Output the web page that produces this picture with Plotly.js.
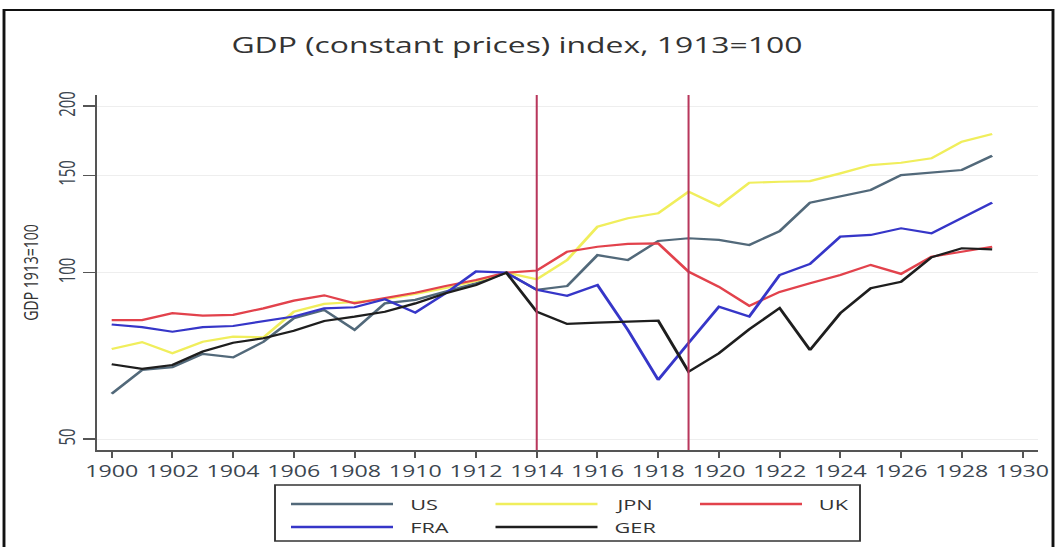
<!DOCTYPE html>
<html>
<head>
<meta charset="utf-8">
<script src="https://cdn.plot.ly/plotly-3.0.1.min.js"></script>
<style>
html,body{margin:0;padding:0;overflow:hidden;background:#fff;width:1058px;height:547px;}
#chart{width:730px;height:547px;transform:scaleX(1.449315);transform-origin:0 0;}
</style>
</head>
<body>
<div id="chart"></div>
<script>
// ---- data ----
const years = [1900,1901,1902,1903,1904,1905,1906,1907,1908,1909,1910,1911,1912,1913,1914,
               1915,1916,1917,1918,1919,1920,1921,1922,1923,1924,1925,1926,1927,1928,1929];
const seriesNames = ["US","JPN","UK","FRA","GER"];
const usValues  = [60.4,66.7,67.5,71.3,70.3,75.0,82.7,85.6,78.8,88.0,89.3,92.4,95.7,100,93.1,
                   94.6,107.6,105.4,114.1,115.4,114.6,112.2,118.9,133.8,137.6,141.1,150.1,151.6,153.3,162.7];
const jpnValues = [72.8,74.9,71.5,75.0,76.6,76.4,85.0,87.8,88.5,89.6,91.5,93.8,96.6,100,97.3,
                   105.4,121.1,125.4,128.0,140.1,132.0,145.4,146.0,146.4,151.2,156.5,158.0,161.0,172.5,178.1];
const ukValues  = [82.1,82.1,84.5,83.6,83.9,86.2,89.0,91.0,88.0,89.9,92.0,94.6,97.0,100,100.9,
                   109.1,111.4,112.7,113.0,100.4,94.3,87.1,92.3,95.7,99.0,103.3,99.5,106.9,109.1,111.4];
const fraValues = [80.6,79.7,78.2,79.7,80.1,81.6,83.3,86.2,86.6,89.5,84.7,91.8,100.5,100,93.1,
                   90.8,95.0,78.8,64.0,74.6,86.8,83.3,99.0,103.7,116.2,117.0,120.3,117.8,125.4,133.8];
const gerValues = [68.3,67.0,68.1,72.0,74.7,76.1,78.5,81.8,83.3,85.0,88.0,91.8,95.0,100,85.0,
                   80.8,81.2,81.6,81.9,66.2,71.5,79.0,86.3,72.5,84.5,93.7,96.3,106.6,110.7,110.2];
const seriesValues = [usValues, jpnValues, ukValues, fraValues, gerValues];
const seriesColors = ["#52697a","#f0ee5c","#e2424c","#3636c8","#1e1e1e"];
const markerYears = [1914, 1919];
const xTickVals = [1900,1902,1904,1906,1908,1910,1912,1914,1916,1918,1920,1922,1924,1926,1928,1930];
const yTickVals = [50,100,150,200];
const yTickText = ["50","100","150","200"];

// ---- geometry helpers (page is drawn narrow, then stretched horizontally) ----
const W = 730, H = 547, S = 1058 / 730;
const M = {l: 67, r: 14, t: 95, b: 97};
const PW = W - M.l - M.r, PH = H - M.t - M.b;
const pxX = px => (px / S - M.l) / PW;     // page pixel -> paper x
const pxY = py => (H - M.b - py) / PH;     // page pixel -> paper y
const FONT = "Open Sans, Noto Sans, Liberation Sans, sans-serif";

const traces = seriesNames.map((name, i) => ({
  type: "scatter", mode: "lines", name: name,
  x: years, y: seriesValues[i],
  line: {color: seriesColors[i], width: 2.2},
  showlegend: false, hoverinfo: "skip"
}));

const shapes = [];
const annotations = [];
// war markers
markerYears.forEach(yr => shapes.push({
  type: "line", xref: "x", yref: "paper", x0: yr, x1: yr, y0: 0, y1: 1,
  line: {color: "#b8375c", width: 1.4}, layer: "above"
}));
// outer frame
shapes.push({type: "rect", xref: "paper", yref: "paper",
  x0: pxX(4), x1: pxX(1053), y0: pxY(600), y1: pxY(10),
  line: {color: "#111", width: 2}, fillcolor: "rgba(0,0,0,0)"});
// legend box
shapes.push({type: "rect", xref: "paper", yref: "paper",
  x0: pxX(275), x1: pxX(860), y0: pxY(541), y1: pxY(485),
  line: {color: "#333", width: 1.3}, fillcolor: "rgba(0,0,0,0)"});
seriesNames.forEach((name, i) => {
  const col = i % 3, row = Math.floor(i / 3);
  const lx0 = 291 + col * 204.5, ly = 504 + row * 23;
  shapes.push({type: "line", xref: "paper", yref: "paper",
    x0: pxX(lx0), x1: pxX(lx0 + 102), y0: pxY(ly), y1: pxY(ly),
    line: {color: seriesColors[i], width: 2.5}});
  annotations.push({xref: "paper", yref: "paper", x: pxX(lx0 + 116), y: pxY(ly),
    xanchor: "left", yanchor: "middle", showarrow: false, text: name,
    font: {family: FONT, size: 15, color: "#333"}});
});

const layout = {
  width: W, height: H,
  margin: M,
  paper_bgcolor: "#ffffff", plot_bgcolor: "#ffffff",
  showlegend: false,
  title: {text: "GDP (constant prices) index, 1913=100", xref: "container", yref: "container",
          x: 0.4886, xanchor: "center", y: 1 - 45 / H, yanchor: "middle",
          font: {family: FONT, size: 22, color: "#333"}},
  xaxis: {range: [1899.52, 1930.5], tickvals: xTickVals, ticks: "outside", ticklen: 6,
          tickwidth: 1.4, tickcolor: "#555", showline: true, linecolor: "#555", linewidth: 2,
          showgrid: false, zeroline: false, fixedrange: true,
          tickfont: {family: FONT, size: 16, color: "#3c4650"}},
  yaxis: {type: "log", range: [Math.log10(47.8), Math.log10(209.5)],
          tickvals: yTickVals, ticktext: yTickText, tickangle: -90,
          ticks: "outside", ticklen: 8, tickwidth: 1.5, tickcolor: "#555",
          showline: true, linecolor: "#555", linewidth: 1.4,
          showgrid: true, gridcolor: "#eeeeee", gridwidth: 1, zeroline: false, fixedrange: true,
          tickfont: {family: FONT, size: 15, color: "#3c4650"},
          title: {text: "GDP 1913=100", standoff: 5, font: {family: FONT, size: 14, color: "#333"}}},
  shapes: shapes,
  annotations: annotations
};

Plotly.newPlot("chart", traces, layout, {staticPlot: true, displayModeBar: false, responsive: false});
</script>
</body>
</html>
